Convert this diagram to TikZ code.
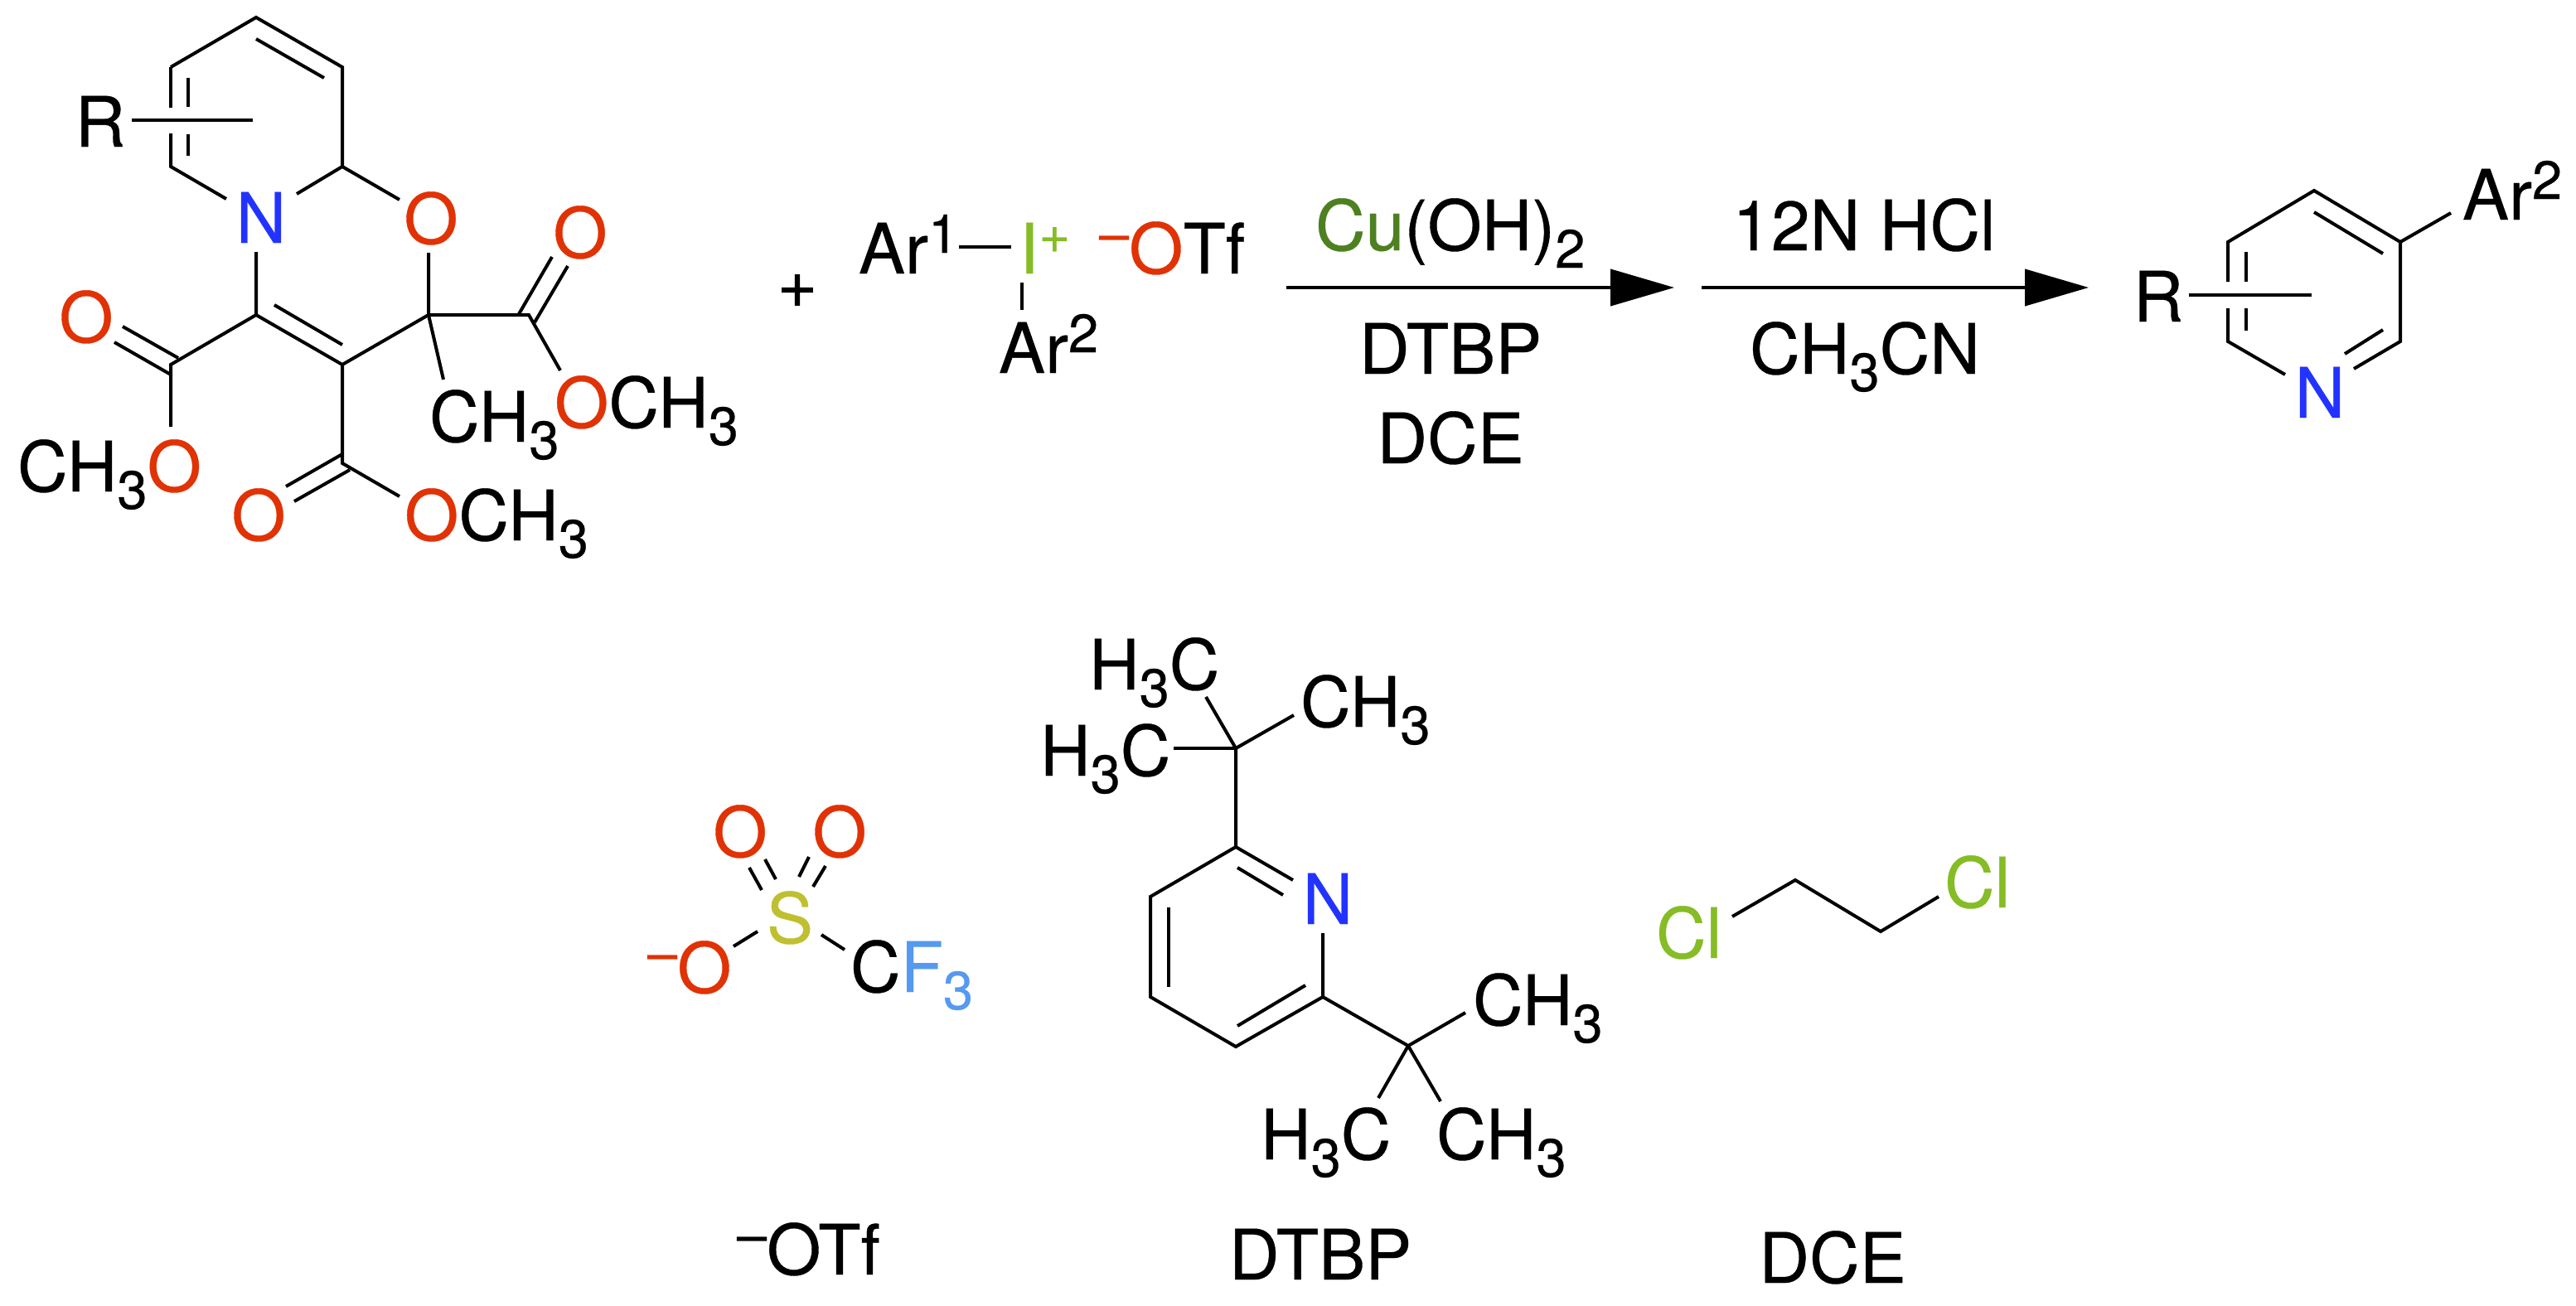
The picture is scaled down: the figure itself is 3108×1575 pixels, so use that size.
\documentclass[tikz,border=0pt]{standalone}
\usepackage{fontspec}
\setmainfont[FakeBold=0.4]{TeX Gyre Heros}
\usetikzlibrary{arrows.meta}

\definecolor{oxy}{RGB}{224,50,5}
\definecolor{nit}{RGB}{34,51,255}
\definecolor{hal}{RGB}{134,188,37}
\definecolor{cop}{RGB}{76,128,32}
\definecolor{sul}{RGB}{191,191,48}
\definecolor{flu}{RGB}{85,153,240}

\newcommand{\subs}[1]{\raisebox{-10.5pt}{\fontsize{32.5}{33}\selectfont #1}}
\newcommand{\sups}[1]{\raisebox{12.5pt}{\fontsize{32.5}{33}\selectfont #1}}

\tikzset{
	bond/.style={line width=2pt},
	thinbond/.style={line width=1.6pt},
	rxn/.style={line width=2pt, -{Triangle[length=38.5pt,width=22pt]}},
	lab/.style={inner sep=0pt, outer sep=0pt, anchor=base west, yshift=-1pt, font=\fontsize{42}{50}\selectfont},
	atom/.style={lab, anchor=base}
}

\begin{document}
\begin{tikzpicture}[x=0.5pt, y=-0.5pt]
	\useasboundingbox (0, 0) rectangle (3108, 1575);

	\coordinate (qTop) at (309, 21);
	\coordinate (qUL) at (206, 81);
	\coordinate (qUR) at (413, 81);
	\coordinate (qLL) at (206, 201);
	\coordinate (qLR) at (413, 201);
	\coordinate (qC4) at (309, 380);
	\coordinate (qC3) at (413, 440);
	\coordinate (qC2) at (517, 380);
	\coordinate (qEL) at (206, 440);
	\coordinate (qEB) at (413, 559);
	\coordinate (qER) at (638, 380);

	\node[atom] (qR) at (121, 175) {R};
	\node[atom, text=nit] (qN) at (315, 291) {N};
	\node[atom, text=oxy] (qO) at (520, 292) {O};
	\node[atom, text=oxy] (qOL) at (104, 411) {O};
	\node[atom, text=oxy] (qOB) at (312, 650) {O};
	\node[atom, text=oxy] (qOR) at (700, 309) {O};
	\node[lab] (qMeL) at (21, 591) {CH\subs{3}\textcolor{oxy}{O}};
	\node[lab] (qMeB) at (488, 650) {\textcolor{oxy}{O}CH\subs{3}};
	\node[lab] (qMeR) at (669, 514) {\textcolor{oxy}{O}CH\subs{3}};
	\node[lab] (qMe) at (518, 531) {CH\subs{3}};

	\coordinate (a1) at (206, 130);
	\coordinate (a2) at (206, 161);
	\coordinate (a3) at (273, 240);
	\coordinate (a4) at (358, 234);
	\coordinate (a5) at (482, 241);
	\coordinate (a6) at (309, 304);
	\coordinate (a7) at (517, 305);
	\coordinate (a8) at (309, 47);
	\coordinate (a9) at (391, 94);
	\coordinate (a10) at (227, 94);
	\coordinate (a11) at (227, 129);
	\coordinate (a12) at (227, 162);
	\coordinate (a13) at (227, 188);
	\coordinate (a14) at (159, 145);
	\coordinate (a15) at (305, 145);
	\coordinate (a16) at (331, 368);
	\coordinate (a17) at (413, 416);

	\draw[bond] (qUL) -- (qTop) -- (qUR) -- (qLR);
	\draw[bond] (qUL) -- (a1);
	\draw[bond] (a2) -- (qLL) -- (a3);
	\draw[bond] (a4) -- (qLR) -- (a5);
	\draw[bond] (a8) -- (a9);
	\draw[bond] (a10) -- (a11);
	\draw[bond] (a12) -- (a13);
	\draw[bond] (a14) -- (a15);
	\draw[bond] (a6) -- (qC4) -- (qC3) -- (qC2) -- (a7);
	\draw[bond] (a16) -- (a17);

	\coordinate (b1) at (148, 394);
	\coordinate (b2) at (215, 432);
	\coordinate (b3) at (138, 413);
	\coordinate (b4) at (206, 452);
	\coordinate (b5) at (206, 515);
	\coordinate (b6) at (413, 548);
	\coordinate (b7) at (345, 587);
	\coordinate (b8) at (422, 567);
	\coordinate (b9) at (355, 605);
	\coordinate (b10) at (482, 599);
	\coordinate (b11) at (535, 458);
	\coordinate (b12) at (626, 379);
	\coordinate (b13) at (666, 310);
	\coordinate (b14) at (645, 389);
	\coordinate (b15) at (685, 321);
	\coordinate (b16) at (676, 447);

	\draw[bond] (qC4) -- (qEL) -- (b5);
	\draw[bond] (b1) -- (b2);
	\draw[bond] (b3) -- (b4);
	\draw[bond] (qC3) -- (qEB) -- (b10);
	\draw[bond] (b6) -- (b7);
	\draw[bond] (b8) -- (b9);
	\draw[bond] (qC2) -- (b11);
	\draw[bond] (qC2) -- (qER) -- (b16);
	\draw[bond] (b12) -- (b13);
	\draw[bond] (b14) -- (b15);

	\node[atom] (plus) at (962, 369) {+};
	\node[lab] (ar1) at (1036, 328) {Ar\sups{1}};
	\node[lab] (iod) at (1230, 328) {\textcolor{hal}{I\sups{+}}};
	\node[lab] (otf) at (1326, 328) {\textcolor{oxy}{\sups{–}O}Tf};
	\node[lab] (ar2) at (1205, 448) {Ar\sups{2}};
	\coordinate (c1) at (1157, 298);
	\coordinate (c2) at (1220, 298);
	\coordinate (c3) at (1233, 341);
	\coordinate (c4) at (1233, 374);
	\draw[bond] (c1) -- (c2);
	\draw[thinbond] (c3) -- (c4);

	\coordinate (arrA) at (1552, 347);
	\coordinate (arrB) at (2020, 347);
	\draw[rxn] (arrA) -- (arrB);
	\node[lab] (cu) at (1587, 300) {\textcolor{cop}{Cu}(OH)\subs{2}};
	\node[atom] (dtbp) at (1750, 449) {DTBP};
	\node[atom] (dce) at (1750, 557) {DCE};

	\coordinate (arrC) at (2053, 347);
	\coordinate (arrD) at (2520, 347);
	\draw[rxn] (arrC) -- (arrD);
	\node[atom] (hcl) at (2249, 300) {12N HCl};
	\node[atom] (mecn) at (2250, 449) {CH\subs{3}CN};

	\coordinate (pTop) at (2792, 230);
	\coordinate (pUL) at (2688, 292);
	\coordinate (pUR) at (2896, 292);
	\coordinate (pLL) at (2688, 412);
	\coordinate (pLR) at (2896, 412);
	\node[atom] (pR) at (2604, 386) {R};
	\node[atom, text=nit] (pN) at (2799, 502) {N};
	\node[lab] (pAr) at (2971, 263) {Ar\sups{2}};
	\coordinate (d1) at (2757, 452);
	\coordinate (d2) at (2840, 445);
	\coordinate (d3) at (2688, 340);
	\coordinate (d4) at (2688, 372);
	\coordinate (d5) at (2710, 304);
	\coordinate (d6) at (2710, 340);
	\coordinate (d7) at (2710, 372);
	\coordinate (d8) at (2710, 399);
	\coordinate (d9) at (2792, 256);
	\coordinate (d10) at (2875, 306);
	\coordinate (d11) at (2875, 398);
	\coordinate (d12) at (2829, 427);
	\coordinate (d13) at (2957, 257);
	\coordinate (d14) at (2641, 356);
	\coordinate (d15) at (2789, 356);
	\draw[bond] (d3) -- (pUL) -- (pTop) -- (pUR) -- (pLR) -- (d2);
	\draw[bond] (d4) -- (pLL) -- (d1);
	\draw[bond] (d5) -- (d6);
	\draw[bond] (d7) -- (d8);
	\draw[bond] (d9) -- (d10);
	\draw[bond] (d11) -- (d12);
	\draw[bond] (pUR) -- (d13);
	\draw[bond] (d14) -- (d15);

	\node[atom, text=oxy] (tOA) at (893, 1032) {O};
	\node[atom, text=oxy] (tOB) at (1013, 1032) {O};
	\node[atom, text=sul] (tS) at (953, 1136) {S};
	\node[lab, text=oxy] (tO) at (781, 1196) {\sups{–}O};
	\node[lab] (tC) at (1026, 1195) {C\textcolor{flu}{F\subs{3}}};
	\coordinate (e1) at (904, 1047);
	\coordinate (e2) at (919, 1074);
	\coordinate (e3) at (923, 1037);
	\coordinate (e4) at (936, 1061);
	\coordinate (e5) at (976, 1034);
	\coordinate (e6) at (964, 1058);
	\coordinate (e7) at (996, 1045);
	\coordinate (e8) at (981, 1070);
	\coordinate (e9) at (914, 1124);
	\coordinate (e10) at (885, 1142);
	\coordinate (e11) at (991, 1128);
	\coordinate (e12) at (1019, 1146);
	\draw[bond] (e1) -- (e2);
	\draw[bond] (e3) -- (e4);
	\draw[bond] (e5) -- (e6);
	\draw[bond] (e7) -- (e8);
	\draw[bond] (e9) -- (e10);
	\draw[bond] (e11) -- (e12);
	\node[lab] (tName) at (889, 1536) {\sups{–}OTf};

	\coordinate (fTop) at (1491, 1022);
	\coordinate (fUL) at (1388, 1082);
	\coordinate (fLL) at (1388, 1203);
	\coordinate (fBot) at (1491, 1263);
	\coordinate (fLR) at (1596, 1203);
	\coordinate (fA) at (1491, 903);
	\coordinate (fB) at (1699, 1262);
	\node[atom, text=nit] (fN) at (1602, 1113) {N};
	\node[lab] (fMe1) at (1314, 830) {H\subs{3}C};
	\node[lab] (fMe2) at (1569, 875) {CH\subs{3}};
	\node[lab] (fMe3) at (1255, 934) {H\subs{3}C};
	\node[lab] (fMe4) at (1777, 1235) {CH\subs{3}};
	\node[lab] (fMe5) at (1521, 1397) {H\subs{3}C};
	\node[lab] (fMe6) at (1733, 1397) {CH\subs{3}};
	\coordinate (g1) at (1455, 841);
	\coordinate (g2) at (1561, 863);
	\coordinate (g3) at (1416, 903);
	\coordinate (g4) at (1560, 1062);
	\coordinate (g5) at (1596, 1126);
	\coordinate (g6) at (1493, 1047);
	\coordinate (g7) at (1548, 1080);
	\coordinate (g8) at (1410, 1095);
	\coordinate (g9) at (1410, 1191);
	\coordinate (g10) at (1493, 1238);
	\coordinate (g11) at (1575, 1189);
	\coordinate (g12) at (1768, 1222);
	\coordinate (g13) at (1738, 1329);
	\coordinate (g14) at (1663, 1325);
	\draw[bond] (g4) -- (fTop) -- (fUL) -- (fLL) -- (fBot) -- (fLR) -- (g5);
	\draw[bond] (g6) -- (g7);
	\draw[bond] (g8) -- (g9);
	\draw[bond] (g10) -- (g11);
	\draw[bond] (fTop) -- (fA) -- (g1);
	\draw[bond] (fA) -- (g2);
	\draw[bond] (fA) -- (g3);
	\draw[bond] (fLR) -- (fB) -- (g12);
	\draw[bond] (fB) -- (g13);
	\draw[bond] (fB) -- (g14);
	\node[atom] (fName) at (1593, 1542) {DTBP};

	\node[lab, text=hal] (hClA) at (1998, 1154) {Cl};
	\node[lab, text=hal] (hClB) at (2346, 1093) {Cl};
	\coordinate (h1) at (2090, 1106);
	\coordinate (h2) at (2166, 1062);
	\coordinate (h3) at (2269, 1124);
	\coordinate (h4) at (2339, 1082);
	\draw[bond] (h1) -- (h2) -- (h3) -- (h4);
	\node[atom] (hName) at (2211, 1546) {DCE};
\end{tikzpicture}
\end{document}
